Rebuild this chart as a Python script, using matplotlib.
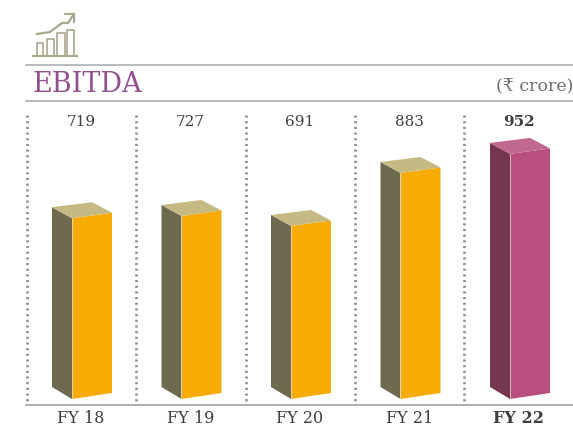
import matplotlib
matplotlib.use('Agg')
import matplotlib.pyplot as plt
from matplotlib.lines import Line2D
from matplotlib.patches import Polygon

years = ['FY 18', 'FY 19', 'FY 20', 'FY 21', 'FY 22']
ebitda = [719, 727, 691, 883, 952]
front_colors = ['#f8ab00', '#f8ab00', '#f8ab00', '#f8ab00', '#b94f7e']
side_colors = ['#6e6a50', '#6e6a50', '#6e6a50', '#6e6a50', '#73384f']
top_colors = ['#c6ba84', '#c6ba84', '#c6ba84', '#c6ba84', '#c1688f']

W, H = 573, 427
BASE = 400      # pixel row of the bar floor
FLOOR = 64      # value axis does not start at zero in the original
PX_PER_UNIT = 0.276
STEP = 109.5    # pixels between categories
FIRST = 92      # pixel column of first bar's front centre

serif = ['DejaVu Serif', 'DejaVu Sans']
grey_text = '#3f3f3f'
rule = '#a8a8a8'

fig = plt.figure(figsize=(W / 100, H / 100), dpi=100)
ax = fig.add_axes([0, 0, 1, 1])
# x in categories, y in crore, scaled so the pixels line up with the reference
ax.set_xlim(-FIRST / STEP, (W - FIRST) / STEP)
ax.set_ylim(FLOOR - (H - BASE) / PX_PER_UNIT, FLOOR + BASE / PX_PER_UNIT)
ax.axis('off')

dx = 1 / STEP
dv = 1 / PX_PER_UNIT


def px(x, y):
    return x / W, 1 - y / H


def hline(x0, x1, y, **kw):
    fig.add_artist(Line2D([x0 / W, x1 / W], [1 - y / H, 1 - y / H], **kw))


for i, v in enumerate(ebitda):
    l = i - 20 * dx
    r = i + 20 * dx
    fl = (l, FLOOR)
    fr = (r, FLOOR + 6 * dv)
    tl = (l, v)
    tr = (r, v + 5.5 * dv)
    side_b = (l - 20 * dx, FLOOR + 12 * dv)
    side_t = (l - 20 * dx, v + 11 * dv)
    back = (r - 20 * dx, v + 16 * dv)
    ax.add_patch(Polygon([side_b, fl, tl, side_t], fc=side_colors[i], ec='none'))
    ax.add_patch(Polygon([fl, fr, tr, tl], fc=front_colors[i], ec='none'))
    ax.add_patch(Polygon([side_t, tl, tr, back], fc=top_colors[i], ec='none'))
    ax.plot([l, l], [FLOOR, v], c='#e9e4d0', lw=0.5)

    weight = 'bold' if i == 4 else 'normal'
    cx = i - 11 * dx
    ax.text(cx, FLOOR + 278 * dv, v, ha='center', va='center', fontsize=11,
            family=serif, weight=weight, color=grey_text)
    ax.text(cx, FLOOR - 19 * dv, years[i], ha='center', va='center', fontsize=11.5,
            family=serif, weight=weight, color=grey_text)

# dotted separators
for x in [27, 136, 246, 355, 464]:
    fig.add_artist(Line2D([x / W, x / W], [1 - 116 / H, 1 - 404 / H], color='#8c8c8c',
                          lw=1.9, ls=(0, (0.8, 1.35))))

hline(26, 573, 66, color=rule, lw=1.1)
hline(26, 573, 102, color=rule, lw=1.1)
hline(26, 573, 406, color=rule, lw=1.3)

fig.text(*px(33, 85), 'EBITDA', fontsize=19.5, family=serif, color='#93508f', va='center')
fig.text(*px(573, 87), '(₹ crore)', fontsize=12.5, family=serif, color='#6e6e6e',
         ha='right', va='center')

# icon
icon = '#aaa78f'
for x0, x1, top in [(37, 43, 44), (47, 54, 40), (57, 65, 34), (67, 74, 31)]:
    fig.add_artist(Line2D([x0 / W, x0 / W, x1 / W, x1 / W],
                          [1 - 57 / H, 1 - top / H, 1 - top / H, 1 - 57 / H], color=icon, lw=1.2))
hline(33, 77, 57, color=icon, lw=1.5)
arrow_x = [37, 50, 62, 68, 74]
arrow_y = [35, 33, 24, 24, 15]
fig.add_artist(Line2D([a / W for a in arrow_x], [1 - a / H for a in arrow_y], color=icon, lw=1.6))
fig.add_artist(Line2D([65 / W, 74 / W, 74 / W], [1 - 15 / H, 1 - 15 / H, 1 - 23 / H], color=icon, lw=1.5))

fig.savefig('out.png', dpi=100)
